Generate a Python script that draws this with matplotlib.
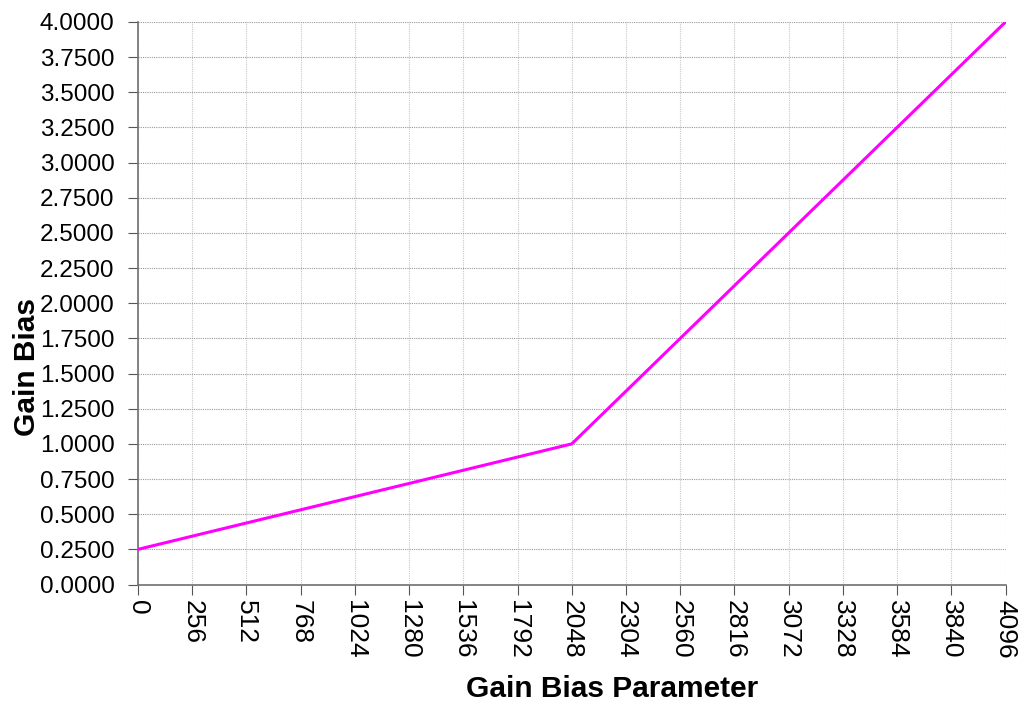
import numpy as np
import matplotlib.pyplot as plt
from matplotlib.ticker import FormatStrFormatter

plt.rcParams['font.family'] = ['Liberation Sans', 'DejaVu Sans']

# data: gain bias vs parameter (piecewise linear)
param = [0, 2048, 4096]
gain_bias = [0.25, 1.0, 4.0]

x_ticks = list(range(0, 4097, 256))
y_ticks = [i * 0.25 for i in range(17)]

fig = plt.figure(figsize=(10.2, 7.05), dpi=100)
ax = fig.add_axes([0.1353, 0.1709, 0.8505, 0.7979])

ax.plot(param, gain_bias, color='#ff00ff', linewidth=2.2, zorder=3)

ax.set_xlim(0, 4096)
ax.set_ylim(0, 4)
ax.set_xticks(x_ticks)
ax.set_yticks(y_ticks)
ax.yaxis.set_major_formatter(FormatStrFormatter('%.4f'))
ax.tick_params(axis='x', labelrotation=270, labelsize=19, length=7, color='#555555', pad=4)
ax.tick_params(axis='y', labelsize=17.5, length=7, color='#555555', pad=10)

ax.xaxis.grid(True, color='#c8c8c8', linestyle=(0, (1, 1)), linewidth=0.8)
ax.yaxis.grid(True, color='#999999', linestyle=(0, (1, 1)), linewidth=0.8)
ax.set_axisbelow(True)

for s in ['top', 'right']:
    ax.spines[s].set_visible(False)
for s in ['left', 'bottom']:
    ax.spines[s].set_color('#707070')
    ax.spines[s].set_linewidth(1.2)

fig.text(0.6, 0.0113, 'Gain Bias Parameter', fontsize=21.5, fontweight='bold', ha='center', va='baseline')
fig.text(0.0265, 0.479, 'Gain Bias', fontsize=21.5, fontweight='bold', rotation=90, ha='center', va='center')

fig.savefig('out.png', dpi=100)
